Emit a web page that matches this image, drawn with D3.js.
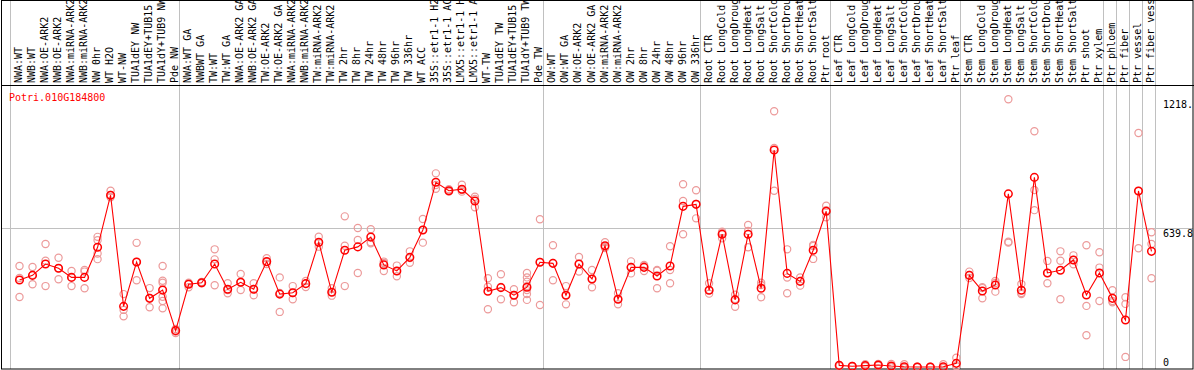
<!DOCTYPE html>
<html>
<head>
<script src="https://cdn.jsdelivr.net/npm/d3@7"></script>
<style>
  body { margin: 0; background: #fff; }
  text { font-family: "DejaVu Sans Mono", monospace; font-size: 10px; }
</style>
</head>
<body>
<svg id="chart" width="1194" height="370"></svg>
<script>
// sample labels as printed in the header (cut at 14 characters)
const samples = [
  "NWA:WT", "NWB:WT", "NWA:OE-ARK2", "NWB:OE-ARK2", "NWA:miRNA-ARK2", "NWB:miRNA-ARK2",
  "NW 0hr", "WT H2O", "WT-NW", "TUA1dEY NW", "TUA1dEY+TUB15", "TUA1dY+TUB9 NW", "Pde NW",
  "NWA:WT GA", "NWBWT GA", "TW:WT", "TW:WT GA", "NWA:OE-ARK2 GA", "NWB:OE-ARK2 GA",
  "TW:OE-ARK2", "TW:OE-ARK2 GA", "NWA:miRNA-ARK2", "NWB:miRNA-ARK2", "TW:miRNA-ARK2",
  "TW:miRNA-ARK2", "TW 2hr", "TW 8hr", "TW 24hr", "TW 48hr", "TW 96hr", "TW 336hr", "WT ACC",
  "35S::etr1-1 H2", "35S::etr1-1 AC", "LMX5::etr1-1 H", "LMX5::etr1-1 A", "WT-TW",
  "TUA1dEY TW", "TUA1dEY+TUB15", "TUA1dY+TUB9 TW", "Pde TW",
  "OW:WT", "OW:WT GA", "OW:OE-ARK2", "OW:OE-ARK2 GA", "OW:miRNA-ARK2", "OW:miRNA-ARK2",
  "OW 2hr", "OW 8hr", "OW 24hr", "OW 48hr", "OW 96hr", "OW 336hr",
  "Root CTR", "Root LongCold", "Root LongDroug", "Root LongHeat", "Root LongSalt",
  "Root ShortCold", "Root ShortDrou", "Root ShortHeat", "Root ShortSalt", "Ptr root",
  "Leaf CTR", "Leaf LongCold", "Leaf LongDroug", "Leaf LongHeat", "Leaf LongSalt",
  "Leaf ShortCold", "Leaf ShortDrou", "Leaf ShortHeat", "Leaf ShortSalt", "Ptr leaf",
  "Stem CTR", "Stem LongCold", "Stem LongDroug", "Stem LongHeat", "Stem LongSalt",
  "Stem ShortCold", "Stem ShortDrou", "Stem ShortHeat", "Stem ShortSalt", "Ptr shoot",
  "Ptr xylem", "Ptr phloem", "Ptr fiber", "Ptr vessel", "Ptr fiber vess"
];

// index where each sample group begins (last entry = end)
const groupStarts = [0, 13, 41, 53, 63, 73, 84, 85, 86, 87, 88];

// mean expression per sample
const means = [
  406, 427, 478, 459, 418, 418, 553, 787, 288, 487,
  324, 361, 179, 387, 394, 478, 365, 396, 365, 489,
  343, 349, 390, 576, 351, 540, 555, 599, 474, 447,
  508, 631, 845, 807, 814, 761, 356, 372, 338, 374,
  486, 481, 338, 478, 411, 560, 320, 463, 463, 424,
  469, 737, 746, 360, 612, 317, 612, 369, 990, 436,
  400, 540, 715, 23, 19, 22, 25, 20, 17, 16,
  16, 17, 32, 427, 357, 384, 793, 360, 867, 438,
  450, 496, 339, 438, 324, 227, 806, 535
];

// replicate values per sample
const replicates = [
  [469, 415, 330], [465, 429, 387], [568, 493, 379], [506, 459, 410], [447, 418, 379],
  [451, 444, 369], [600, 585, 525, 500], [807, 778, 788], [343, 272, 243], [573, 405, 487],
  [370, 326, 284], [469, 403, 394, 331, 312, 279], [186, 175, 168], [394, 374, 389], [397, 392, 393],
  [544, 499, 383], [392, 347, 361], [433, 361, 397], [392, 338, 366], [504, 478, 487],
  [418, 263, 348], [379, 320, 348], [402, 375, 390], [601, 556, 573], [369, 336, 352],
  [692, 560, 379], [640, 586, 438], [634, 576, 571], [489, 447, 483], [471, 423, 447],
  [535, 484, 505], [680, 574, 631], [885, 816, 833], [814, 803, 806], [834, 803, 810],
  [780, 733, 770], [414, 376, 275], [432, 320, 375], [365, 306, 339], [438, 418, 399, 379, 361, 343, 317],
  [679, 294, 487], [562, 405, 483], [379, 297, 339], [510, 444, 478], [451, 374, 411],
  [576, 555, 550], [347, 297, 321], [490, 436, 465], [474, 447, 469], [448, 369, 451],
  [558, 451, 392], [836, 761, 612], [809, 683, 748], [392, 345, 361], [623, 594, 617],
  [340, 286, 321], [653, 553, 626], [394, 329, 384], [1164, 807, 999], [544, 417, 347],
  [418, 381, 402], [564, 501, 559], [740, 688, 720], [20, 25, 24], [18, 20, 19],
  [28, 20, 18], [29, 22, 24], [29, 16, 15], [28, 12, 11], [15, 16, 17],
  [15, 16, 17], [28, 12, 11], [57, 20, 19], [444, 415, 429], [374, 324, 370],
  [402, 354, 393], [1218, 578, 574], [388, 343, 348], [1074, 810, 720], [492, 438, 392],
  [535, 493, 320], [517, 477, 496], [562, 290, 158], [531, 462, 312], [360, 306, 312],
  [329, 299, 61], [1066, 549, 806], [621, 568, 414]
];

const yTicks = [0, 639.8, 1218];
const yTickLabels = ["0", "639.8", "1218."];
const geneId = "Potri.010G184800";

const W = 1194, H = 370;
const headerBottom = 85.5, plotBottom = 369;
const svg = d3.select("#chart");

const x = d3.scaleBand().domain(d3.range(samples.length)).range([10, 1155]).padding(0);
const px = i => x(i) + 9.5;
const y = d3.scaleLinear().domain([0, 1218]).range([370.5, 99.2]);

// group separators
svg.append("g")
  .selectAll("line")
  .data(groupStarts)
  .enter().append("line")
  .attr("x1", d => Math.round(x(d) ?? 1155) + 0.5)
  .attr("x2", d => Math.round(x(d) ?? 1155) + 0.5)
  .attr("y1", 0).attr("y2", plotBottom)
  .attr("stroke", "#c0c0c0");

// horizontal grid line at the middle tick
svg.append("line")
  .attr("x1", 1).attr("x2", W - 1)
  .attr("y1", Math.round(y(639.8)) + 0.5).attr("y2", Math.round(y(639.8)) + 0.5)
  .attr("stroke", "#c0c0c0");

// frame
svg.append("rect")
  .attr("x", 1.5).attr("y", 0.5)
  .attr("width", W - 2.5).attr("height", plotBottom - 0.5)
  .attr("fill", "none").attr("stroke", "#000");
svg.append("line")
  .attr("x1", 1).attr("x2", W)
  .attr("y1", headerBottom).attr("y2", headerBottom)
  .attr("stroke", "#000");

// header labels
svg.append("g")
  .selectAll("text")
  .data(samples)
  .enter().append("text")
  .attr("transform", (d, i) => `translate(${x(i) + 12},83) rotate(-90)`)
  .attr("fill", "#000")
  .text(d => d);

// y tick labels
svg.append("g")
  .selectAll("text")
  .data(yTicks)
  .enter().append("text")
  .attr("x", 1163)
  .attr("y", (d, i) => i === 0 ? 366 : y(d) + 9)
  .attr("fill", "#000")
  .text((d, i) => yTickLabels[i]);

// gene id
svg.append("text")
  .attr("x", 9).attr("y", 101)
  .attr("fill", "#ff0000")
  .text(geneId);

// replicate points
const repPts = [];
replicates.forEach((r, i) => r.forEach(v => repPts.push({ i, v })));
svg.append("g")
  .selectAll("circle")
  .data(repPts)
  .enter().append("circle")
  .attr("cx", d => px(d.i))
  .attr("cy", d => y(d.v))
  .attr("r", 3.6)
  .attr("fill", "none")
  .attr("stroke", "#ec9a9a")
  .attr("stroke-width", 1.2);

// mean line
svg.append("path")
  .datum(means)
  .attr("d", d3.line().x((d, i) => px(i)).y(d => y(d)))
  .attr("fill", "none")
  .attr("stroke", "#ff0000")
  .attr("stroke-width", 1.1);

// mean points
svg.append("g")
  .selectAll("circle")
  .data(means)
  .enter().append("circle")
  .attr("cx", (d, i) => px(i))
  .attr("cy", d => y(d))
  .attr("r", 3.8)
  .attr("fill", "none")
  .attr("stroke", "#ff0000")
  .attr("stroke-width", 1.5);
</script>
</body>
</html>
